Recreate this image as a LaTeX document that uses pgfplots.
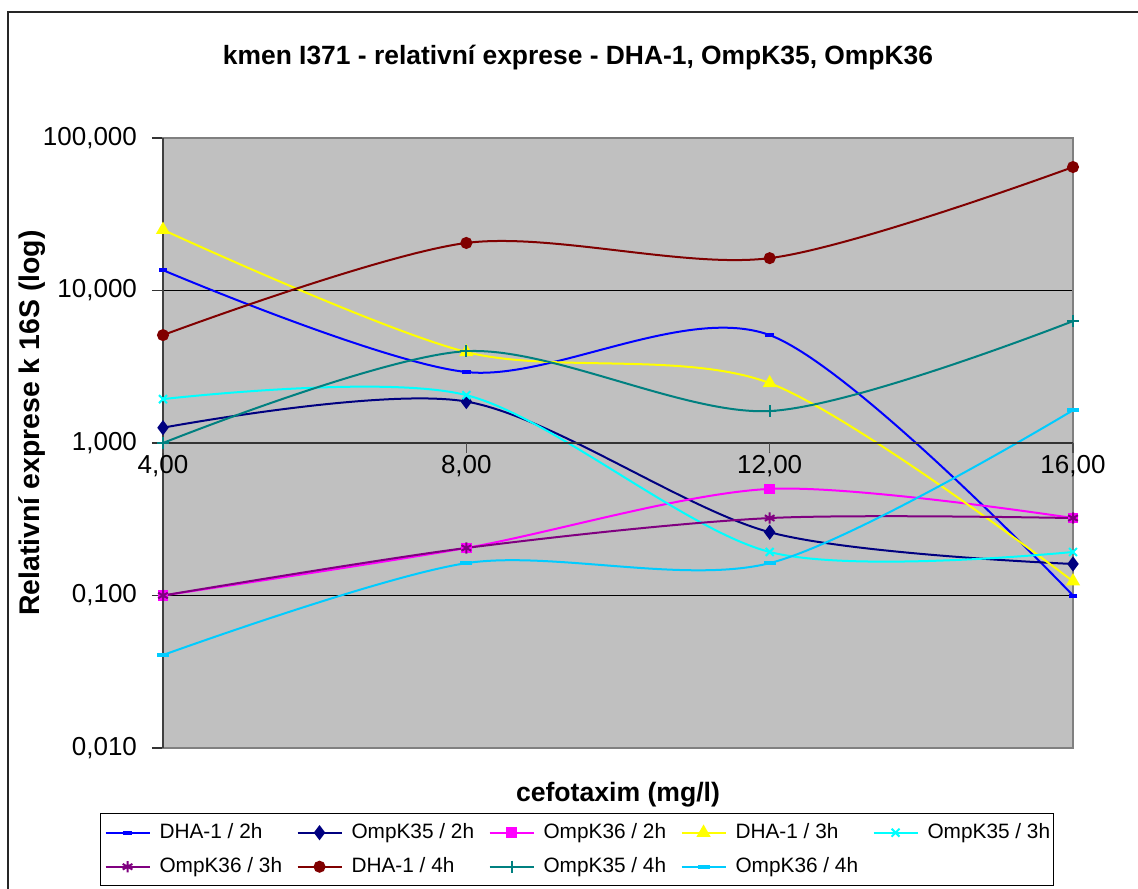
\documentclass[border=0pt]{standalone}
\usepackage{pgfplots}
\pgfplotsset{compat=1.18}
\usepackage{fontspec}
\setmainfont{Liberation Sans}
\definecolor{silver}{RGB}{192,192,192}
\definecolor{cA}{RGB}{0,0,255}
\definecolor{cB}{RGB}{0,0,128}
\definecolor{cC}{RGB}{255,0,255}
\definecolor{cD}{RGB}{255,255,0}
\definecolor{cE}{RGB}{0,255,255}
\definecolor{cF}{RGB}{128,0,128}
\definecolor{cG}{RGB}{128,0,0}
\definecolor{cH}{RGB}{0,128,128}
\definecolor{cI}{RGB}{0,204,255}
\begin{document}
\begin{tikzpicture}
\useasboundingbox (0,0) rectangle (569pt,444pt);
\fill[white] (0,0) rectangle (569pt,444pt);
\draw[line width=0.8pt, black!85] (4pt,-5pt) -- (4pt,438pt) -- (580pt,438pt);
\node[font=\fontsize{13.2}{15}\selectfont\bfseries] at (289pt,415pt) {kmen I371 - relativní exprese - DHA-1, OmpK35, OmpK36};
\node[font=\fontsize{14.2}{16}\selectfont\bfseries, rotate=90] at (16pt,232.5pt) {Relativní exprese k 16S (log)};
\node[font=\fontsize{13.3}{15}\selectfont\bfseries] at (309pt,46.5pt) {cefotaxim (mg/l)};
\begin{axis}[
  at={(81.5pt,70pt)}, anchor=south west, scale only axis,
  width=455pt, height=305pt,
  ymode=log, xmin=4, xmax=16, ymin=0.01, ymax=100,
  axis background/.style={fill=silver},
  axis line style={draw=gray, line width=1pt},
  xtick=\empty,
  ytick={0.01,0.1,1,10,100},
  ytick pos=left,
  yticklabels={{0,010},{0,100},{1,000},{10,000},{100,000}},
  yminorticks=false,
  ymajorgrids, major grid style={black, line width=0.6pt},
  tick align=outside, major tick length=5.5pt,
  tick style={black!80, line width=0.6pt},
  y tick label style={font=\fontsize{13}{15}\selectfont, xshift=-4pt},
  clip=false,
  every axis plot/.append style={line width=1pt, smooth},
  legend columns=5,
  legend style={at={(0.455,-0.1066)}, anchor=north, draw=black, fill=white,
    line width=0.6pt, inner xsep=2pt, inner ysep=3pt,
    font=\fontsize{10.4}{12}\selectfont, cells={anchor=west}, row sep=4pt,
    /tikz/every odd column/.append style={column sep=2.5pt},
    /tikz/every even column/.append style={column sep=7.5pt}},
  legend image code/.code={\draw[mark repeat=2, mark phase=2] plot coordinates {(0pt,0pt) (11pt,0pt) (22pt,0pt)};},
]
\addplot[cA, mark=-, mark size=2.2pt, mark options={line width=2pt, solid}] coordinates {(4,13.6) (8,2.92) (12,5.1) (16,0.1)};
\addlegendentry{\makebox[59pt][l]{DHA-1 / 2h}}
\addplot[cB, mark=diamond*, mark size=3pt] coordinates {(4,1.26) (8,1.87) (12,0.26) (16,0.161)};
\addlegendentry{\makebox[59pt][l]{OmpK35 / 2h}}
\addplot[cC, mark=square*, mark size=2.2pt] coordinates {(4,0.1) (8,0.205) (12,0.5) (16,0.322)};
\addlegendentry{\makebox[59pt][l]{OmpK36 / 2h}}
\addplot[cD, mark=triangle*, mark size=3.1pt] coordinates {(4,25) (8,3.95) (12,2.47) (16,0.124)};
\addlegendentry{\makebox[59pt][l]{DHA-1 / 3h}}
\addplot[cE, mark=x, mark size=2.8pt] coordinates {(4,1.94) (8,2.06) (12,0.193) (16,0.193)};
\addlegendentry{\makebox[59pt][l]{OmpK35 / 3h}}
\addplot[cF, mark=asterisk, mark size=2.8pt] coordinates {(4,0.1) (8,0.205) (12,0.322) (16,0.322)};
\addlegendentry{\makebox[59pt][l]{OmpK36 / 3h}}
\addplot[cG, mark=*, mark size=2.5pt] coordinates {(4,5.1) (8,20.5) (12,16.3) (16,64.5)};
\addlegendentry{\makebox[59pt][l]{DHA-1 / 4h}}
\addplot[cH, mark=+, mark size=3pt] coordinates {(4,1.0) (8,4.0) (12,1.62) (16,6.3)};
\addlegendentry{\makebox[59pt][l]{OmpK35 / 4h}}
\addplot[cI, mark=-, mark size=3pt, mark options={line width=2pt, solid}] coordinates {(4,0.0407) (8,0.163) (12,0.163) (16,1.64)};
\addlegendentry{\makebox[59pt][l]{OmpK36 / 4h}}
\draw[black!80, line width=0.6pt] (axis cs:4,1) -- (axis cs:16,1);
\draw[black!75, line width=1pt] (axis cs:4,0.01) -- (axis cs:4,100);
\draw[black!70, line width=0.6pt] (axis cs:4,1) -- ++(0pt,-5pt);
\draw[black!70, line width=0.6pt] (axis cs:8,1) -- ++(0pt,-5pt);
\draw[black!70, line width=0.6pt] (axis cs:12,1) -- ++(0pt,-5pt);
\draw[black!70, line width=0.6pt] (axis cs:16,1) -- ++(0pt,-5pt);
\node[font=\fontsize{13}{15}\selectfont, anchor=north, inner sep=0pt] at (axis cs:4,1) [yshift=-6pt] {4,00};
\node[font=\fontsize{13}{15}\selectfont, anchor=north, inner sep=0pt] at (axis cs:8,1) [yshift=-6pt] {8,00};
\node[font=\fontsize{13}{15}\selectfont, anchor=north, inner sep=0pt] at (axis cs:12,1) [yshift=-6pt] {12,00};
\node[font=\fontsize{13}{15}\selectfont, anchor=north, inner sep=0pt] at (axis cs:16,1) [yshift=-6pt] {16,00};
\end{axis}
\end{tikzpicture}
\end{document}
